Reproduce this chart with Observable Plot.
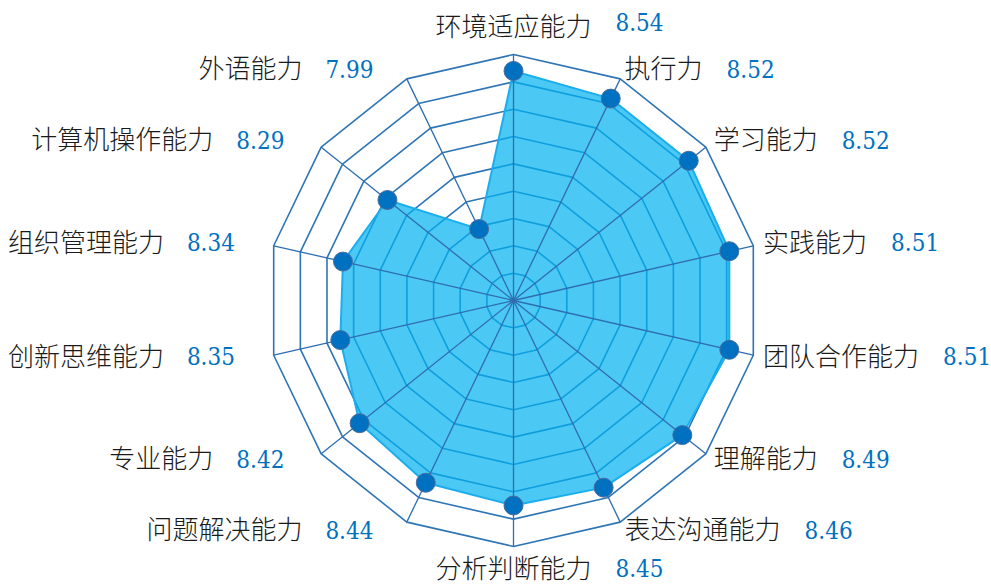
<!DOCTYPE html>
<html><head><meta charset="utf-8">
<script src="https://cdn.jsdelivr.net/npm/d3@7"></script>
<script src="https://cdn.jsdelivr.net/npm/@observablehq/plot@0.6"></script>
<style>
body{margin:0;background:#fff;}
#chart svg{display:block;}
g[aria-label="value-label"], g[aria-label="value-label"] text{font-stretch:condensed;}
</style></head><body><div id="chart"></div>
<script>
const categories = ["环境适应能力","执行力","学习能力","实践能力","团队合作能力","理解能力","表达沟通能力","分析判断能力","问题解决能力","专业能力","创新思维能力","组织管理能力","计算机操作能力","外语能力"];
const values = [8.54,8.52,8.52,8.51,8.51,8.49,8.46,8.45,8.44,8.42,8.35,8.34,8.29,7.99];
const ringLevels = [7.8,7.9,8.0,8.1,8.2,8.3,8.4,8.5,8.6];
const rMin = 7.7;

const W = 991, H = 585, cx = 513, cy = 300, pxPerUnit = 273.3;
const n = categories.length;
const px = 1 / pxPerUnit;
const ang = i => 2 * Math.PI * i / n;
const polar = (i, r) => ({x: r * Math.sin(ang(i)), y: r * Math.cos(ang(i))});

const points = categories.map((c, i) => ({cat: c, value: values[i], i, ...polar(i, values[i] - rMin)}));
const rings = ringLevels.flatMap(l => categories.map((c, i) => ({level: l, ...polar(i, l - rMin)})));
const rOuter = d3.max(ringLevels) - rMin;
const spokes = categories.map((c, i) => ({...polar(i, rOuter)}));

const fs = 26, vfs = 24, gap = 24, valW = 47;
const labels = categories.map((c, i) => {
  const s = Math.sin(ang(i)), co = Math.cos(ang(i));
  const side = s > 0.01 ? "right" : s < -0.01 ? "left" : (co > 0 ? "top" : "bottom");
  const off = side === "top" ? 27 : side === "bottom" ? 23 : 10;
  const base = polar(i, rOuter + off * px);
  const catW = c.length * fs;
  let catX, valX;
  if (side === "right") { catX = base.x; valX = base.x + (catW + gap) * px; }
  else if (side === "left") { valX = base.x - 29 * px; catX = valX - (valW + gap) * px; }
  else { catX = base.x; valX = base.x + (catW / 2 + gap) * px; }
  return {cat: c, val: values[i].toFixed(2), side, catX, valX, y: base.y};
});

const catStyle = {fontSize: fs, fontFamily: "Noto Sans CJK SC", fontWeight: 300, fill: "#1a1a1a"};
const valStyle = {fontSize: vfs, fontFamily: "DejaVu Serif Condensed, DejaVu Serif", fill: "#0070C0", ariaLabel: "value-label"};

const chart = Plot.plot({
  width: W, height: H, margin: 0,
  style: {background: "#fff", overflow: "visible"},
  x: {domain: [-cx * px, (W - cx) * px], axis: null},
  y: {domain: [-(H - cy) * px, cy * px], axis: null},
  marks: [
    Plot.line(rings, {x: "x", y: "y", z: "level", curve: "linear-closed", stroke: "#2E75B6", strokeWidth: 1.6}),
    Plot.line(points, {x: "x", y: "y", curve: "linear-closed", fill: "#00B0F0", fillOpacity: 0.7, stroke: "#1AAEEE", strokeWidth: 2}),
    Plot.link(spokes, {x1: 0, y1: 0, x2: "x", y2: "y", stroke: "#2E6DB0", strokeWidth: 1.3}),
    Plot.dot(points, {x: "x", y: "y", r: 9.5, fill: "#0070C0", stroke: "#4A6E9E", strokeWidth: 1}),
    Plot.text(labels.filter(d => d.side === "right"), {x: "catX", y: "y", text: "cat", textAnchor: "start", ...catStyle}),
    Plot.text(labels.filter(d => d.side === "left"), {x: "catX", y: "y", text: "cat", textAnchor: "end", ...catStyle}),
    Plot.text(labels.filter(d => d.side === "top" || d.side === "bottom"), {x: "catX", y: "y", text: "cat", textAnchor: "middle", ...catStyle}),
    Plot.text(labels.filter(d => d.side === "right" || d.side === "bottom"), {x: "valX", y: "y", text: "val", textAnchor: "start", ...valStyle}),
    Plot.text(labels.filter(d => d.side === "top"), {x: "valX", y: "y", text: "val", textAnchor: "start", dy: -4, ...valStyle}),
    Plot.text(labels.filter(d => d.side === "left"), {x: "valX", y: "y", text: "val", textAnchor: "end", ...valStyle})
  ]
});
document.getElementById("chart").appendChild(chart);
</script>
</body></html>
